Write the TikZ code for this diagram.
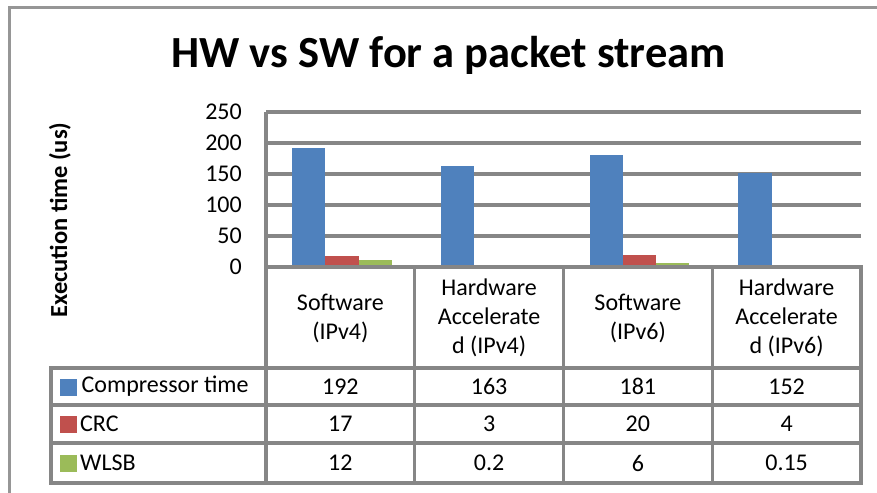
\documentclass[tikz,border=0pt]{standalone}
\usepackage{fontspec}
\setmainfont{Carlito}
\definecolor{gridgray}{RGB}{134,134,134}
\definecolor{framegray}{RGB}{150,150,150}
\definecolor{cblue}{RGB}{79,129,189}
\definecolor{cred}{RGB}{192,80,77}
\definecolor{cgreen}{RGB}{155,187,89}
\tikzset{
  gridline/.style={draw=gridgray,line width=3.2bp},
  tabline/.style={draw=gridgray,line width=3.2bp},
  txt/.style={inner sep=0pt,font=\fontsize{24bp}{29bp}\selectfont},
  cattxt/.style={txt,align=center},
  ticktxt/.style={txt,anchor=east},
  bar/.style={draw=none},
  legsq/.style={draw=none,minimum size=17bp,inner sep=0pt}
}
\begin{document}
\begin{tikzpicture}[x=1bp,y=-1bp]
\useasboundingbox (0,0) rectangle (877,493);
% outer frame
\draw[draw=framegray,line width=3bp] (9.5,493) -- (9.5,7.5) -- (877,7.5);
% title
\node[font=\fontsize{44.5bp}{50bp}\selectfont\bfseries,anchor=base] (title) at (448.5,68) {HW vs SW for a packet stream};
% y axis title
\node[font=\fontsize{24.5bp}{29bp}\selectfont\bfseries,rotate=90,anchor=base] (ytitle) at (67,220) {Execution time (us)};
% gridlines
\foreach \v [count=\i] in {50,100,150,200,250}{
  \draw[gridline] (266,{267-0.62*\v}) -- (861,{267-0.62*\v});
}
% tick labels
\foreach \v in {0,50,100,150,200,250}{
  \node[ticktxt] (tick\v) at (242,{267-0.62*\v}) {\v};
}
% bars
\def\bw{33.3}
\foreach \c/\a/\b/\g in {0/192/17/12, 1/163/3/0.2, 2/181/20/6, 3/152/4/0.15}{
  \pgfmathsetmacro{\xl}{266+148.75*\c+26}
  \fill[cblue] (\xl,267) rectangle ({\xl+\bw},{267-0.62*\a});
  \fill[cred] ({\xl+\bw},267) rectangle ({\xl+2*\bw},{267-0.62*\b});
  \fill[cgreen] ({\xl+2*\bw},267) rectangle ({\xl+3*\bw},{267-0.62*\g});
}
% table lines
\draw[tabline] (266,112) -- (266,483);
\draw[tabline] (264.4,267) -- (861,267);
\draw[tabline] (51,368) -- (861,368);
\draw[tabline] (51,405) -- (861,405);
\draw[tabline] (51,443) -- (861,443);
\draw[tabline] (51,483) -- (861,483);
\draw[tabline] (51,366.4) -- (51,484.6);
\foreach \x in {414.75,563.5,712.25}{
  \draw[tabline] (\x,267) -- (\x,483);
}
\draw[tabline] (861,265.4) -- (861,484.6);
% category labels
\node[cattxt] (cat1) at (340.4,318) {Software\\(IPv4)};
\node[cattxt] (cat2) at (489.1,318) {Hardware\\Accelerate\\d (IPv4)};
\node[cattxt] (cat3) at (637.9,318) {Software\\(IPv6)};
\node[cattxt] (cat4) at (786.6,318) {Hardware\\Accelerate\\d (IPv6)};
% legend
\node[legsq,fill=cblue] (sq1) at (68.5,387.5) {};
\node[legsq,fill=cred] (sq2) at (68.5,424.5) {};
\node[legsq,fill=cgreen] (sq3) at (68.5,463) {};
\node[txt,anchor=west] (leg1) at (81.5,386.5) {Compressor time};
\node[txt,anchor=west] (leg2) at (80,424) {CRC};
\node[txt,anchor=west] (leg3) at (80,463) {WLSB};
% values
\foreach \v [count=\c] in {192,163,181,152}{
  \node[txt] (va\c) at ({266+148.75*(\c-0.5)},386.5) {\v};
}
\foreach \v [count=\c] in {17,3,20,4}{
  \node[txt] (vb\c) at ({266+148.75*(\c-0.5)},424) {\v};
}
\foreach \v [count=\c] in {12,0.2,6,0.15}{
  \node[txt] (vc\c) at ({266+148.75*(\c-0.5)},463) {\v};
}
\end{tikzpicture}
\end{document}
